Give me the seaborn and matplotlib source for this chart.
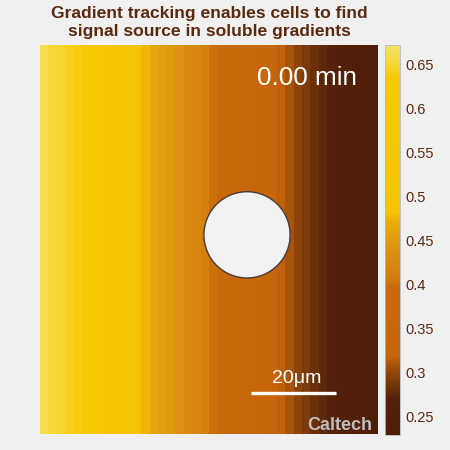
import numpy as np
import pandas as pd
import matplotlib
matplotlib.use("Agg")
import matplotlib.pyplot as plt
import seaborn as sns
from matplotlib.colors import LinearSegmentedColormap
from matplotlib.patches import Circle

# concentration profile across the field, one value per 2 um column (left -> right)
profile = [0.660, 0.651, 0.647, 0.642, 0.638, 0.617, 0.597, 0.577, 0.556, 0.536,
           0.515, 0.495, 0.475, 0.466, 0.457, 0.448, 0.438, 0.429, 0.420, 0.411,
           0.402, 0.391, 0.381, 0.370, 0.359, 0.348, 0.337, 0.326, 0.316, 0.307,
           0.298, 0.290, 0.282, 0.274, 0.266, 0.259, 0.252, 0.246, 0.239, 0.232]
n_rows = 46            # 2 um rows -> 92 um tall field
cell_um = 2.0
vmin, vmax = 0.229, 0.672
cbar_ticks = [0.25, 0.3, 0.35, 0.4, 0.45, 0.5, 0.55, 0.6, 0.65]
cbar_labels = ["0.25", "0.3", "0.35", "0.4", "0.45", "0.5", "0.55", "0.6", "0.65"]
time_label = "0.00 min"
source_center = (49.0, 44.9)   # um
source_radius = 10.2           # um
scale_bar = (50.0, 70.0)       # um

brown = "#5A2A0E"
bg = "#F0F0F0"

# stepped copper/yellow colour map, nodes given as data values
nodes = [(0.229, "#4E1D06"), (0.269, "#55220A"), (0.290, "#7B3A09"),
         (0.311, "#B0580B"), (0.318, "#C6650B"), (0.397, "#C9690B"),
         (0.410, "#D47F0E"), (0.445, "#DE9610"), (0.473, "#EBAE0A"),
         (0.482, "#F6C402"), (0.635, "#F8C805"), (0.652, "#F5D73A"),
         (0.672, "#F3E362")]
cmap = LinearSegmentedColormap.from_list(
    "grad", [((v - vmin) / (vmax - vmin), c) for v, c in nodes])

df = pd.DataFrame(np.tile(profile, (n_rows, 1)))

sns.set_style("white")
plt.rcParams["font.family"] = ["Liberation Sans", "DejaVu Sans"]

fig = plt.figure(figsize=(4.5, 4.5), dpi=100, facecolor=bg)
ax = fig.add_axes([40 / 450, 16 / 450, 338 / 450, 389 / 450])
cax = fig.add_axes([385 / 450, 15 / 450, 15 / 450, 390 / 450])

sns.heatmap(df, ax=ax, cmap=cmap, vmin=vmin, vmax=vmax, cbar_ax=cax,
            xticklabels=False, yticklabels=False,
            cbar_kws={"ticks": cbar_ticks})
ax.set_position([40 / 450, 16 / 450, 338 / 450, 389 / 450])
ax.set_xticks([])
ax.set_yticks([])

def um(v):
    return v / cell_um

# signal source
ax.add_patch(Circle((um(source_center[0]), um(source_center[1])), um(source_radius),
                    facecolor="#F1F1F3", edgecolor="#4A3A36", lw=1.0, zorder=5))

ax.text(um(75.0), um(7.8), time_label, color="white", fontsize=18.8,
        ha="right", va="center", zorder=6)

ax.plot([um(scale_bar[0]), um(scale_bar[1])], [um(82.3), um(82.3)],
        color="white", lw=2.4, solid_capstyle="butt", zorder=6)
ax.text(um(60.7), um(78.8), "20\u03bcm", color="white",
        fontsize=14, ha="center", va="center", zorder=6)

ax.text(um(78.6), um(89.9), "Caltech", color="#BEBEBE", fontsize=13,
        fontweight="bold", ha="right", va="center", zorder=6)

for s in ax.spines.values():
    s.set_visible(False)

cbar = ax.collections[0].colorbar
cbar.set_ticks(cbar_ticks)
cbar.set_ticklabels(cbar_labels)
cbar.ax.tick_params(direction="in", length=2.5, width=0.6, color=brown,
                    labelcolor=brown, labelsize=10.5, pad=4)
cbar.outline.set_edgecolor("#B8B8B8")
cbar.outline.set_linewidth(0.6)

fig.text(209 / 450, 1 - 22.5 / 450,
         "Gradient tracking enables cells to find\nsignal source in soluble gradients",
         ha="center", va="center", fontsize=12.6, fontweight="bold",
         color=brown, linespacing=1.25)

fig.savefig("out.png", dpi=100, facecolor=bg)
